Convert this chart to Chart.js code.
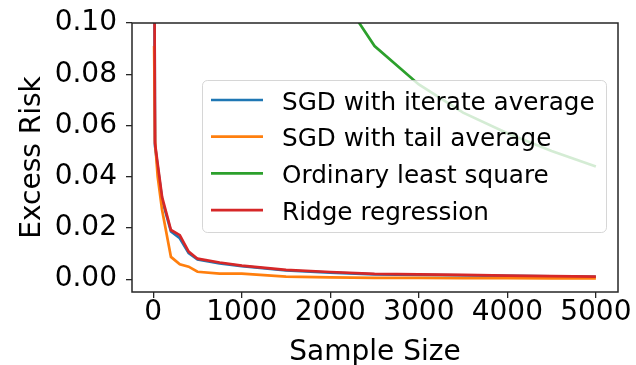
<!DOCTYPE html>
<html lang="en">
<head>
    <meta charset="UTF-8">
    <title>Excess Risk vs Sample Size</title>
    <style>
        body {
            margin: 0;
            padding: 0;
            background: #ffffff;
        }
        #chart-container {
            width: 636px;
            height: 365px;
        }
    </style>
    <script src="https://cdn.jsdelivr.net/npm/chart.js"></script>
</head>
<body>

    <div id="chart-container">
        <canvas id="riskChart" width="636" height="365"></canvas>
    </div>

    <script>
        // Sample sizes shared by all curves
        var sampleSizes = [10, 20, 50, 100, 200, 300, 400, 500, 750, 1000, 1500, 2000, 2500, 3000, 3500, 4000, 4500, 5000];

        // Excess risk per method (null = not computed for that size)
        var sgdIterate = [0.148, 0.052, 0.044, 0.031, 0.0186, 0.0160, 0.0102, 0.0077, 0.0062, 0.0051, 0.0034, 0.0026, 0.0019, 0.0017, 0.0015, 0.0013, 0.0011, 0.0009];
        var sgdTail = [0.091, 0.054, 0.040, 0.027, 0.0087, 0.0058, 0.0049, 0.0029, 0.0022, 0.0022, 0.0010, 0.0007, 0.0005, 0.0005, 0.0004, 0.0004, 0.0003, 0.0003];
        var ols = [null, null, null, null, null, null, null, null, null, null, null, 0.117, 0.091, 0.076, 0.065, 0.057, 0.050, 0.044];
        var ridge = [0.150, 0.053, 0.045, 0.032, 0.0192, 0.0172, 0.0108, 0.0080, 0.0065, 0.0053, 0.0036, 0.0028, 0.0021, 0.0019, 0.0017, 0.0014, 0.0012, 0.0010];

        var seriesNames = ['SGD with iterate average', 'SGD with tail average', 'Ordinary least square', 'Ridge regression'];
        var seriesColors = ['#1f77b4', '#ff7f0e', '#2ca02c', '#d62728'];

        // Axis ticks
        var xTicks = [0, 1000, 2000, 3000, 4000, 5000];
        var yTicks = [0.00, 0.02, 0.04, 0.06, 0.08, 0.10];

        var FONT = 'DejaVu Sans';

        function toPoints(values) {
            var pts = [];
            for (var i = 0; i < sampleSizes.length; i++) {
                if (values[i] !== null) pts.push({ x: sampleSizes[i], y: values[i] });
            }
            return pts;
        }

        var allValues = [sgdIterate, sgdTail, ols, ridge];
        var datasets = [];
        for (var s = 0; s < allValues.length; s++) {
            datasets.push({
                label: seriesNames[s],
                data: toPoints(allValues[s]),
                borderColor: seriesColors[s],
                borderWidth: 2.7,
                pointRadius: 0,
                tension: 0,
                fill: false,
                clip: 0,
                order: allValues.length - s   // later series drawn on top
            });
        }

        // Box around the plot plus a legend with a translucent frame drawn over the lines
        var frameAndLegend = {
            id: 'frameAndLegend',
            afterDatasetsDraw: function (chart) {
                var ctx = chart.ctx;
                var a = chart.chartArea;
                ctx.save();
                ctx.strokeStyle = '#262626';
                ctx.lineWidth = 1.5;
                ctx.strokeRect(a.left, a.top, a.right - a.left, a.bottom - a.top);

                // legend frame
                var bx = 202, by = 80, bw = 404, bh = 152, r = 5;
                ctx.beginPath();
                ctx.roundRect(bx + 0.5, by + 0.5, bw, bh, r);
                ctx.fillStyle = 'rgba(255,255,255,0.8)';
                ctx.fill();
                ctx.strokeStyle = 'rgba(204,204,204,0.8)';
                ctx.lineWidth = 1;
                ctx.stroke();

                ctx.font = '24.7px "' + FONT + '"';
                ctx.textAlign = 'left';
                ctx.textBaseline = 'alphabetic';
                for (var i = 0; i < seriesNames.length; i++) {
                    var rowY = 100 + i * 36.7;
                    ctx.beginPath();
                    ctx.moveTo(211, rowY);
                    ctx.lineTo(263, rowY);
                    ctx.strokeStyle = seriesColors[i];
                    ctx.lineWidth = 2.7;
                    ctx.stroke();
                    ctx.fillStyle = '#000000';
                    ctx.fillText(seriesNames[i], 282, rowY + 9.5);
                }
                ctx.restore();
            }
        };

        var ctx = document.getElementById('riskChart').getContext('2d');
        var riskChart = new Chart(ctx, {
            type: 'line',
            data: { datasets: datasets },
            options: {
                responsive: false,
                animation: false,
                events: [],
                layout: { padding: { top: 21, right: 18, left: 0, bottom: 0 } },
                plugins: {
                    legend: { display: false },
                    tooltip: { enabled: false }
                },
                scales: {
                    x: {
                        type: 'linear',
                        min: -240,
                        max: 5250,
                        afterFit: function (scale) { scale.height = 73; },
                        afterBuildTicks: function (scale) {
                            scale.ticks = xTicks.map(function (v) { return { value: v }; });
                        },
                        border: { display: false },
                        grid: {
                            display: true,
                            drawOnChartArea: false,
                            drawTicks: true,
                            tickLength: 6,
                            color: '#262626',
                            lineWidth: 1.3
                        },
                        ticks: {
                            color: '#000000',
                            padding: 1,
                            maxRotation: 0,
                            font: { family: FONT, size: 28, lineHeight: 1 },
                            callback: function (v) { return String(v); }
                        },
                        title: {
                            display: true,
                            text: 'Sample Size',
                            color: '#000000',
                            padding: { top: 0, bottom: -2 },
                            font: { family: FONT, size: 28, lineHeight: 1 }
                        }
                    },
                    y: {
                        type: 'linear',
                        min: -0.005,
                        max: 0.1,
                        afterFit: function (scale) { scale.width = 132; },
                        afterBuildTicks: function (scale) {
                            scale.ticks = yTicks.map(function (v) { return { value: v }; });
                        },
                        border: { display: false },
                        grid: {
                            display: true,
                            drawOnChartArea: false,
                            drawTicks: true,
                            tickLength: 6,
                            color: '#262626',
                            lineWidth: 1.3
                        },
                        ticks: {
                            color: '#000000',
                            padding: 9,
                            font: { family: FONT, size: 28, lineHeight: 1 },
                            callback: function (v) { return v.toFixed(2); }
                        },
                        title: {
                            display: true,
                            text: 'Excess Risk',
                            color: '#000000',
                            padding: { top: 19, bottom: 0 },
                            font: { family: FONT, size: 28, lineHeight: 1 }
                        }
                    }
                }
            },
            plugins: [frameAndLegend]
        });
    </script>

</body>
</html>
